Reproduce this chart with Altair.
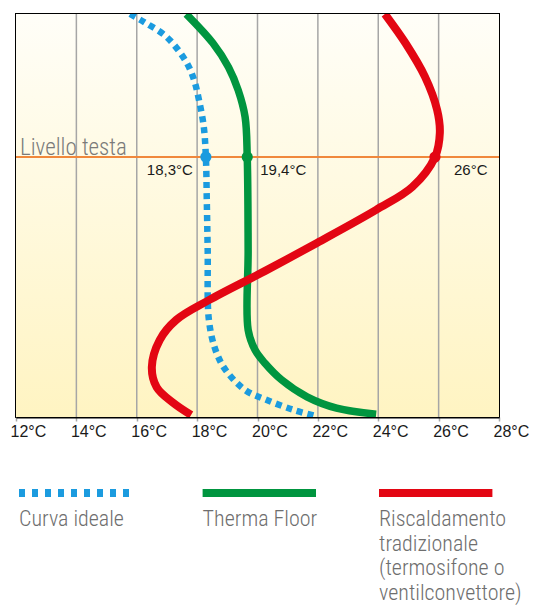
import altair as alt
import pandas as pd

# ---------------- data ----------------
tick_values = [12, 14, 16, 18, 20, 22, 24, 26, 28]
grid_values = [14, 16, 18, 20, 22, 24, 26]
head_level = [64.5]

ideal_temp = [15.78, 16.24, 16.99, 17.64, 17.90, 18.06, 18.22, 18.29, 18.32, 18.35,
              18.39, 18.61, 18.94, 19.59, 20.31, 21.22, 21.97]
ideal_h = [100, 98.0, 94.3, 88.1, 83.6, 78.7, 72.0, 64.5, 53.8, 41.4,
           24.1, 16.6, 11.7, 6.7, 4.2, 1.7, 0.2]

therma_temp = [17.64, 18.52, 19.04, 19.36, 19.59, 19.66, 19.69, 19.69, 19.92, 20.24,
               20.80, 21.64, 22.62, 23.93]
therma_h = [100, 92.8, 86.8, 81.1, 74.4, 64.5, 41.4, 21.6, 16.6, 13.4,
            9.2, 5.0, 2.2, 0.7]

trad_temp = [24.22, 24.90, 25.55, 25.95, 26.04, 25.88, 25.13, 23.93, 21.97, 20.24,
             18.39, 17.31, 16.76, 16.50, 16.66, 17.21, 17.80]
trad_h = [100, 92.8, 84.4, 76.2, 70.5, 64.5, 57.1, 51.4, 43.2, 36.2,
          29.0, 24.1, 19.1, 12.4, 7.4, 3.5, 0.5]

series_keys = ["ideale", "therma", "tradizionale"]
series_colors = ["#1B9BDF", "#00953F", "#E30613"]
legend_labels = ["Curva ideale", "Therma Floor",
                 "Riscaldamento\ntradizionale\n(termosifone o\nventilconvettore)"]
legend_slots = [0, 1.02, 2.0]

dot_temp = [18.29, 19.66, 25.88]
dot_h = [64.5, 64.5, 64.5]
dot_labels = ["18,3°C", "19,4°C", "26°C"]

# ---------------- frames ----------------
def curve_df(key, t, h):
    return pd.DataFrame({"serie": key, "temp": t, "h": h, "idx": list(range(len(t)))})

curves = {
    "ideale": curve_df("ideale", ideal_temp, ideal_h),
    "therma": curve_df("therma", therma_temp, therma_h),
    "tradizionale": curve_df("tradizionale", trad_temp, trad_h),
}
dots = pd.DataFrame({"serie": series_keys, "temp": dot_temp, "h": dot_h, "label": dot_labels})
grid_df = pd.DataFrame({"t": grid_values})
head_df = pd.DataFrame({"h": head_level})
bg_df = pd.DataFrame({"t0": [tick_values[0]], "t1": [tick_values[-1]], "h0": [0], "h1": [100]})

W, H = 483, 403
SANS = "Liberation Sans, Arial, sans-serif"
THIN = "Roboto Condensed, Open Sans Condensed, Liberation Sans Narrow, DejaVu Sans Condensed, Roboto, sans-serif"

XS = alt.Scale(domain=[12, 28], nice=False, zero=False)
YS = alt.Scale(domain=[0, 100], nice=False, zero=False)
AX = alt.Axis(values=tick_values, labelExpr="datum.value + '°C'", grid=False, title=None,
              labelFont=SANS, labelFontSize=16, labelColor="#1a1a1a",
              labelAlign="left", labelOffset=-6, labelPadding=2,
              tickSize=4, tickColor="#A6A6A6", tickWidth=1.5,
              domainColor="black", domainWidth=2, labelFlush=False)

def xenc(field):
    return alt.X(field, type="quantitative", scale=XS, axis=AX)

def yenc(field):
    return alt.Y(field, type="quantitative", scale=YS, axis=None)

grad = alt.LinearGradient(gradient="linear", x1=0, x2=0, y1=0, y2=1,
                          stops=[alt.GradientStop(offset=0, color="#FFFEF8"),
                                 alt.GradientStop(offset=1, color="#FFF4C2")])

bg = alt.Chart(bg_df).mark_rect(fill=grad).encode(
    x=xenc("t0"), x2="t1", y=yenc("h0"), y2="h1")

grid = alt.Chart(grid_df).mark_rule(color="#A6A6A6", strokeWidth=1.5).encode(x=xenc("t"))

head = alt.Chart(head_df).mark_rule(color="#F0883C", strokeWidth=2).encode(y=yenc("h"))

head_text = alt.Chart(head_df).mark_text(
    text="Livello testa", align="left", baseline="alphabetic", font=THIN, fontWeight=300,
    fontSize=23, color="#7A7A7A", dx=4, dy=-2).encode(
    x=alt.X(datum=12, type="quantitative", scale=XS, axis=AX), y=yenc("h"))

line_ideal = alt.Chart(curves["ideale"]).mark_line(
    interpolate="catmull-rom", color=series_colors[0], strokeWidth=6.5, clip=True,
    strokeDash=[6, 5], strokeCap="butt").encode(x=xenc("temp"), y=yenc("h"), order="idx:Q")
line_therma = alt.Chart(curves["therma"]).mark_line(
    interpolate="catmull-rom", color=series_colors[1], strokeWidth=7.5, clip=True).encode(
    x=xenc("temp"), y=yenc("h"), order="idx:Q")
line_trad = alt.Chart(curves["tradizionale"]).mark_line(
    interpolate="catmull-rom", color=series_colors[2], strokeWidth=8, clip=True).encode(
    x=xenc("temp"), y=yenc("h"), order="idx:Q")

dot_layer = alt.Chart(dots).mark_circle(size=125, opacity=1).encode(
    x=xenc("temp"), y=yenc("h"),
    color=alt.Color("serie:N", scale=alt.Scale(domain=series_keys, range=series_colors), legend=None))

def label_layer(i, align, dx):
    return alt.Chart(dots.iloc[[i]]).mark_text(
        align=align, baseline="alphabetic", dx=dx, dy=18, font=SANS, fontSize=15, color="#1a1a1a").encode(
        x=xenc("temp"), y=yenc("h"), text="label:N")

main = alt.layer(
    bg, grid, head, head_text, line_ideal, line_therma, line_trad, dot_layer,
    label_layer(0, "right", -13), label_layer(1, "left", 13), label_layer(2, "left", 19),
)

# ---------------- legend (below the plot) ----------------
leg = pd.DataFrame({"serie": series_keys, "label": legend_labels, "pos": legend_slots})
leg["end"] = leg["pos"] + 0.63
LXS = alt.Scale(domain=[-0.0167, W / 180 - 0.0167], nice=False, zero=False)

def lx(field):
    return alt.X(field, type="quantitative", scale=LXS, axis=None)

SW_Y = 479
sw_ideal = alt.Chart(leg.iloc[[0]]).mark_rule(
    color=series_colors[0], strokeWidth=8, strokeDash=[6, 7], strokeCap="butt").encode(
    x=lx("pos"), x2="end", y=alt.value(SW_Y))
sw_therma = alt.Chart(leg.iloc[[1]]).mark_rule(color=series_colors[1], strokeWidth=8).encode(
    x=lx("pos"), x2="end", y=alt.value(SW_Y))
sw_trad = alt.Chart(leg.iloc[[2]]).mark_rule(color=series_colors[2], strokeWidth=8).encode(
    x=lx("pos"), x2="end", y=alt.value(SW_Y))
leg_text = alt.Chart(leg).mark_text(
    align="left", baseline="top", lineBreak="\n", lineHeight=24.5,
    font=THIN, fontWeight=300, fontSize=22, color="#6E6E6E").encode(
    x=lx("pos"), y=alt.value(495), text="label:N")

legend_part = alt.layer(sw_ideal, sw_therma, sw_trad, leg_text)

chart = alt.layer(main, legend_part).resolve_scale(x="independent").properties(
    width=W, height=H,
    autosize=alt.AutoSizeParams(type="none"),
    padding={"left": 8, "top": 6, "right": 30, "bottom": 189}
).configure_view(stroke="black", strokeWidth=2)

chart.save("out.html", embed_options={"renderer": "svg", "actions": False})
